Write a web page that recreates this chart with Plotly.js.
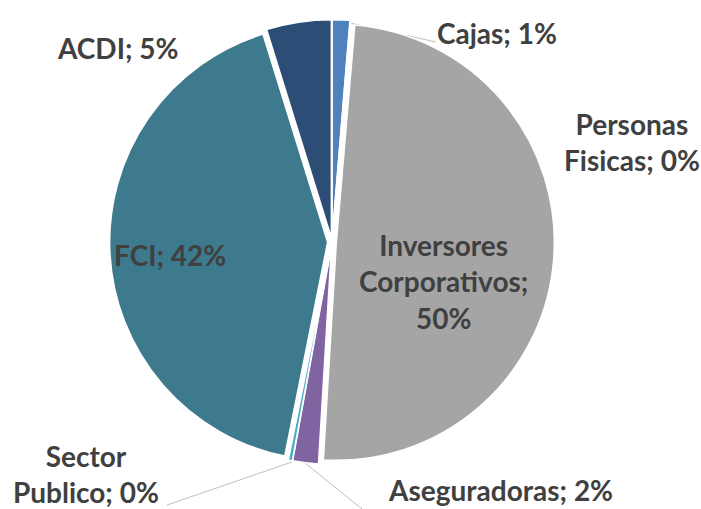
<!DOCTYPE html>
<html><head><meta charset="utf-8">
<script src="https://cdn.plot.ly/plotly-3.0.1.min.js"></script>
<style>html,body{margin:0;padding:0;background:#fff}</style>
</head><body><div id="chart" style="width:701px;height:509px"></div>
<script>
const categories = ["Cajas", "Personas Fisicas", "Inversores Corporativos", "Aseguradoras", "Sector Publico", "FCI", "ACDI"];
const shares = [1.3, 0.05, 49.6, 1.9, 0.3, 42.05, 4.8];
const labelTexts = ["Cajas; 1%", "Personas<br>Fisicas; 0%", "Inversores<br>Corporativos;<br>50%", "Aseguradoras; 2%", "Sector<br>Publico; 0%", "FCI; 42%", "ACDI; 5%"];
const colors = ["#4f81bd", "#c0504d", "#a5a5a5", "#8064a2", "#4bacc6", "#3e7a8d", "#2c4d75"];

const W = 701, H = 509;
const cx = 332, cy = 242, r = 218, pull = 0.02;
const half = r * (1 + pull);

const trace = {
  type: "pie",
  labels: categories,
  values: shares,
  sort: false,
  direction: "clockwise",
  rotation: 0,
  pull: pull,
  textinfo: "none",
  hoverinfo: "label+percent",
  marker: { colors: colors, line: { color: "#ffffff", width: 1.5 } },
  domain: { x: [(cx - half) / W, (cx + half) / W], y: [(H - cy - half) / H, (H - cy + half) / H] },
  showlegend: false
};

const labelPos = [[497, 33], [632, 142], [443, 281], [500, 490], [86, 474], [170, 255], [118, 48]];
const font = { family: "Lato, 'Open Sans', sans-serif", size: 28, color: "#404040", weight: "bold" };
const annotations = labelTexts.map((t, i) => ({
  text: "<b>" + t + "</b>", x: labelPos[i][0] / W, y: 1 - labelPos[i][1] / H, xref: "paper", yref: "paper",
  showarrow: false, font: font, align: "center", xanchor: "center", yanchor: "middle"
}));

const lineStyle = { color: "#bfbfbf", width: 1 };
const leaders = [[[350, 23], [436, 42]], [[292, 462], [167, 505]], [[305, 463], [362, 509]]];
const shapes = leaders.map(l => ({
  type: "line", xref: "paper", yref: "paper",
  x0: l[0][0] / W, y0: 1 - l[0][1] / H, x1: l[1][0] / W, y1: 1 - l[1][1] / H, line: lineStyle, layer: "below"
}));

Plotly.newPlot("chart", [trace], {
  width: W, height: H, margin: { l: 0, r: 0, t: 0, b: 0 },
  paper_bgcolor: "#ffffff", annotations: annotations, shapes: shapes
}, { displayModeBar: false, staticPlot: true });
</script></body></html>
